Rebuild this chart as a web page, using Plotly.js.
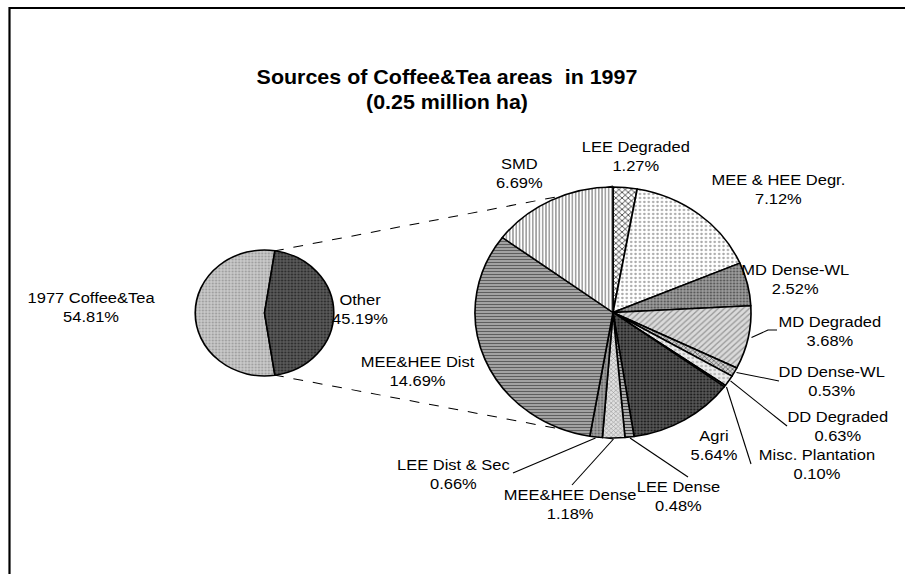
<!DOCTYPE html>
<html>
<head>
<meta charset="utf-8">
<script src="https://cdn.plot.ly/plotly-3.0.1.min.js"></script>
<style>
  html, body { margin: 0; padding: 0; background: #fff; overflow: hidden; }
  #chart { width: 823px; height: 574px; transform: scaleX(1.09964); transform-origin: 0 0; }
</style>
</head>
<body>
<div id="chart"></div>
<script>
// ---- data ----
const mainCategories = ['1977 Coffee&Tea', 'Other'];
const mainValues = [54.81, 45.19];

const otherCategories = ['LEE Degraded', 'MEE & HEE Degr.', 'MD Dense-WL', 'MD Degraded', 'DD Dense-WL',
  'DD Degraded', 'Misc. Plantation', 'Agri', 'LEE Dense', 'MEE&HEE Dense', 'LEE Dist & Sec',
  'MEE&HEE Dist', 'SMD'];
const otherValues = [1.27, 7.12, 2.52, 3.68, 0.53, 0.63, 0.10, 5.64, 0.48, 1.18, 0.66, 14.69, 6.69];

// ---- layout helpers (reference pixel coords -> paper) ----
const W = 905, H = 574, UW = 823;
const px = x => x / W;
const py = y => 1 - y / H;

// label block centres (reference pixels)
const mainLabelPos = [[91, 307], [360, 309]];
const otherLabelPos = [[636, 156], [778, 190], [795, 279], [830, 331], [832, 381], [838, 426],
  [817, 464], [714, 446], [678, 496], [570, 504], [454, 474], [418, 371], [520, 174]];

// leader lines (reference pixels)
const leaders = [
  [[751.5, 337.5], [768, 330], [777, 330]],
  [[736.5, 372.5], [779, 381]],
  [[730.5, 381], [787, 426]],
  [[726.5, 387], [751, 464]],
  [[630, 438], [688, 477]],
  [[613.5, 439], [572, 485]],
  [[595.5, 438], [513, 473]]
];

// ---- styles ----
const mainPattern = {
  shape: ['.', '.'], fgcolor: ['#a0a0a0', '#2e2e2e'], bgcolor: ['#cacaca', '#5a5a5a'],
  size: [3, 3], solidity: [0.4, 0.4]
};
const otherPattern = {
  shape: ['x', '.', '.', '/', 'x', '.', '', '.', '-', 'x', '.', '-', '|'],
  fgcolor: ['#333', '#a8a8a8', '#5a5a5a', '#9a9a9a', '#444', '#bbb', '#333', '#1e1e1e', '#444', '#999', '#666', '#5e5e5e', '#7a7a7a'],
  bgcolor: ['#fff', '#fff', '#9c9c9c', '#dadada', '#d0d0d0', '#ececec', '#333', '#575757', '#c4c4c4', '#e0e0e0', '#a0a0a0', '#b0b0b0', '#fff'],
  size: [4, 4, 3, 4, 3, 4, 4, 3, 3, 3, 3, 3, 3],
  solidity: [0.35, 0.25, 0.4, 0.3, 0.35, 0.3, 0.3, 0.4, 0.45, 0.35, 0.4, 0.45, 0.35]
};

function domainFor(cx, cy, r) {
  // cx, cy in reference px; r in unscaled px (vertical radius)
  return {
    x: [px(cx) - r / UW, px(cx) + r / UW],
    y: [py(cy) - r / H, py(cy) + r / H]
  };
}

const mainTotal = mainValues.reduce((a, b) => a + b, 0);
const traces = [
  {
    type: 'pie', labels: mainCategories, values: mainValues, sort: false, direction: 'clockwise',
    rotation: 90 + 180 * (mainValues[1] / mainTotal),
    textinfo: 'none', hoverinfo: 'label+value',
    domain: domainFor(264.5, 313, 63),
    marker: { pattern: mainPattern, line: { color: '#000', width: 1.5 } }
  },
  {
    type: 'pie', labels: otherCategories, values: otherValues, sort: false, direction: 'clockwise',
    rotation: 0, textinfo: 'none', hoverinfo: 'label+value',
    domain: domainFor(613, 312.5, 125.5),
    marker: { pattern: otherPattern, line: { color: '#000', width: 1.5 } }
  }
];

const labelFont = { family: 'Liberation Sans, Arial, sans-serif', size: 15, color: '#000' };
const annotations = [];
function addLabels(cats, vals, pos) {
  cats.forEach((c, i) => {
    annotations.push({
      xref: 'paper', yref: 'paper', x: px(pos[i][0]), y: py(pos[i][1]),
      xanchor: 'center', yanchor: 'middle', align: 'center', showarrow: false,
      text: c + '<br>' + vals[i].toFixed(2) + '%', font: labelFont
    });
  });
}
addLabels(mainCategories, mainValues, mainLabelPos);
addLabels(otherCategories, otherValues, otherLabelPos);

const shapes = [
  // chart-area frame (top and left edges visible)
  { type: 'line', xref: 'paper', yref: 'paper', x0: px(9), y0: py(8), x1: 1.01, y1: py(8), line: { color: '#000', width: 2 } },
  { type: 'line', xref: 'paper', yref: 'paper', x0: px(9.5), y0: py(7), x1: px(9.5), y1: -0.01, line: { color: '#000', width: 2 } },
  // series lines between the pies
  { type: 'line', layer: 'below', xref: 'paper', yref: 'paper', x0: px(274), y0: py(251), x1: px(613), y1: py(186), line: { color: '#000', width: 1, dash: 'dash' } },
  { type: 'line', layer: 'below', xref: 'paper', yref: 'paper', x0: px(274), y0: py(375), x1: px(613), y1: py(439), line: { color: '#000', width: 1, dash: 'dash' } }
];
leaders.forEach(pts => {
  const d = pts.map((p, i) => (i ? 'L' : 'M') + px(p[0]).toFixed(5) + ',' + py(p[1]).toFixed(5)).join(' ');
  shapes.push({ type: 'path', xref: 'paper', yref: 'paper', path: d, line: { color: '#000', width: 1 } });
});

const layout = {
  width: UW, height: H,
  margin: { l: 0, r: 0, t: 0, b: 0 },
  paper_bgcolor: '#fff', plot_bgcolor: '#fff',
  showlegend: false,
  title: {
    text: 'Sources of Coffee&Tea areas\u00a0 in 1997<br>(0.25 million ha)',
    x: px(447), xanchor: 'center', xref: 'paper',
    y: py(84), yanchor: 'middle', yref: 'paper',
    font: { family: 'Liberation Sans, Arial, sans-serif', size: 19.5, weight: 'bold', color: '#000' }
  },
  annotations: annotations,
  shapes: shapes
};

Plotly.newPlot('chart', traces, layout, { displayModeBar: false, staticPlot: true });
</script>
</body>
</html>
